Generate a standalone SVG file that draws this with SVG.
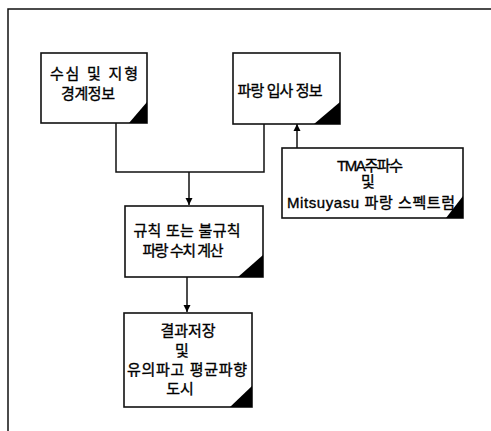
<svg xmlns="http://www.w3.org/2000/svg" width="491" height="431" viewBox="0 0 491 431">
<defs>
<style>
.box{fill:#fff;stroke:#111;stroke-width:1.6}
.corner{fill:#000}
.ln{fill:none;stroke:#111;stroke-width:1.5}
.t{font-family:"Liberation Sans","Noto Sans CJK KR",sans-serif;font-size:15px;fill:#000;stroke:#000;stroke-width:0.35;text-anchor:middle}
</style>
<marker id="ah" viewBox="0 0 8 10" refX="8" refY="5" markerWidth="7" markerHeight="9" markerUnits="userSpaceOnUse" orient="auto">
<path d="M0,1 L8,5 L0,9 Z" fill="#000"/>
</marker>
</defs>
<rect width="491" height="431" fill="#fff"/>
<path class="ln" d="M8,431 V9 H491"/>
<g id="connectors">
<path class="ln" d="M116,123 V172 H264 V124"/>
<path class="ln" d="M189,172 V205" marker-end="url(#ah)"/>
<path class="ln" d="M297,148 V124" marker-end="url(#ah)"/>
<path class="ln" d="M187,277 V312" marker-end="url(#ah)"/>
</g>
<g id="n1">
<rect class="box" x="41" y="53" width="106" height="70"/>
<path class="corner" d="M129,123 H147 V102 Z"/>
<text class="t" x="94" y="79" textLength="88" lengthAdjust="spacing">수심 및 지형</text>
<text class="t" x="88" y="99" textLength="54" lengthAdjust="spacing">경계정보</text>
</g>
<g id="n2">
<rect class="box" x="233" y="53" width="107" height="71"/>
<path class="corner" d="M314,124 H340 V102 Z"/>
<text class="t" x="280" y="96" textLength="85" lengthAdjust="spacing">파랑 입사 정보</text>
</g>
<g id="n3">
<rect class="box" x="125" y="206" width="138" height="71"/>
<path class="corner" d="M238,277 H263 V255 Z"/>
<text class="t" x="187" y="236" textLength="107" lengthAdjust="spacing">규칙 또는 불규칙</text>
<text class="t" x="183" y="256" textLength="81" lengthAdjust="spacing">파랑 수치 계산</text>
</g>
<g id="n4">
<rect class="box" x="282" y="148" width="181" height="70"/>
<path class="corner" d="M446,218 H463 V196 Z"/>
<text class="t" x="370" y="171" textLength="66" lengthAdjust="spacing">TMA주파수</text>
<text class="t" x="368" y="187">및</text>
<text class="t" x="371" y="208" textLength="168" lengthAdjust="spacing">Mitsuyasu 파랑 스펙트럼</text>
</g>
<g id="n5">
<rect class="box" x="124" y="313" width="128" height="94"/>
<path class="corner" d="M230,407 H252 V386 Z"/>
<text class="t" x="188" y="336">결과저장</text>
<text class="t" x="182" y="356">및</text>
<text class="t" x="187" y="375" textLength="120" lengthAdjust="spacing">유의파고 평균파향</text>
<text class="t" x="180" y="394">도시</text>
</g>
</svg>
